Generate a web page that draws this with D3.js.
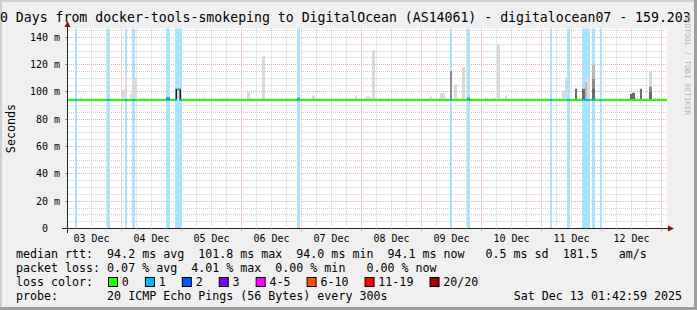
<!DOCTYPE html>
<html><head><meta charset="utf-8">
<script src="https://cdn.jsdelivr.net/npm/d3@7"></script>
<style>
body{margin:0;background:#f0f0f0}
svg{display:block}
text{font-family:"DejaVu Sans Mono",monospace;white-space:pre}
</style>
</head><body>
<svg id="c" width="697" height="310"></svg>
<script>
// ---------------- data ----------------
const title = "10 Days from docker-tools-smokeping to DigitalOcean (AS14061) - digitalocean07 - 159.203";
const yLabel = "Seconds";
const watermark = "RRDTOOL / TOBI OETIKER";
const timeStart = "2025-12-03 02:12";
const timeEnd = "2025-12-13 02:12";
const yMax = 146.5;
const yMajorTicks = [0, 20, 40, 60, 80, 100, 120, 140];
const yTickLabels = ["0  ", "20 m", "40 m", "60 m", "80 m", "100 m", "120 m", "140 m"];
const dayLabels = ["03 Dec", "04 Dec", "05 Dec", "06 Dec", "07 Dec", "08 Dec", "09 Dec", "10 Dec", "11 Dec", "12 Dec"];

// median rtt (ms), step changes
const medianPoints = [
  ["2025-12-03 02:12", 94.2],
  ["2025-12-04 22:12", 101.8],
  ["2025-12-04 23:12", 94.2],
  ["2025-12-13 02:12", 94.2]
];

// packet loss intervals: [start, end, lost pings]
const lossEvents = [
  ["2025-12-03 05:24", "2025-12-03 06:12", 1],
  ["2025-12-03 18:12", "2025-12-03 19:24", 1],
  ["2025-12-04 01:24", "2025-12-04 02:12", 1],
  ["2025-12-04 04:12", "2025-12-04 05:24", 1],
  ["2025-12-04 17:48", "2025-12-04 19:24", 1],
  ["2025-12-04 21:24", "2025-12-05 00:12", 1],
  ["2025-12-06 22:12", "2025-12-06 23:24", 1],
  ["2025-12-09 11:24", "2025-12-09 12:12", 1],
  ["2025-12-09 18:12", "2025-12-09 19:24", 1],
  ["2025-12-11 03:24", "2025-12-11 04:12", 1],
  ["2025-12-11 10:12", "2025-12-11 11:24", 1],
  ["2025-12-11 16:12", "2025-12-11 19:24", 1],
  ["2025-12-11 20:12", "2025-12-11 21:24", 1],
  ["2025-12-11 23:24", "2025-12-12 00:12", 1]
];

// smoke (ping spread above median): [start, end, top ms, density level 0..4]
const smokeSpikes = [
  ["2025-12-03 07:24", "2025-12-03 08:12", 96.3, 0],
  ["2025-12-03 14:12", "2025-12-03 15:24", 95.2, 0],
  ["2025-12-03 23:48", "2025-12-04 01:24", 101.6, 0],
  ["2025-12-04 01:24", "2025-12-04 02:12", 113.3, 0],
  ["2025-12-04 03:24", "2025-12-04 04:12", 98.6, 0],
  ["2025-12-04 04:12", "2025-12-04 06:12", 109.6, 0],
  ["2025-12-04 07:24", "2025-12-04 09:24", 95.7, 0],
  ["2025-12-04 17:48", "2025-12-04 19:24", 96.0, 3],
  ["2025-12-04 21:36", "2025-12-04 22:12", 102.3, 4],
  ["2025-12-04 22:12", "2025-12-04 23:12", 107.2, 0],
  ["2025-12-04 23:12", "2025-12-04 23:48", 102.3, 4],
  ["2025-12-05 07:48", "2025-12-05 09:24", 95.8, 0],
  ["2025-12-05 15:24", "2025-12-05 19:24", 95.5, 0],
  ["2025-12-06 02:12", "2025-12-06 03:24", 99.9, 0],
  ["2025-12-06 08:12", "2025-12-06 09:24", 126.2, 0],
  ["2025-12-06 22:12", "2025-12-06 23:24", 96.0, 2],
  ["2025-12-07 04:12", "2025-12-07 05:24", 97.6, 0],
  ["2025-12-07 21:24", "2025-12-07 22:12", 97.4, 0],
  ["2025-12-08 01:24", "2025-12-08 03:48", 96.7, 0],
  ["2025-12-08 04:12", "2025-12-08 05:24", 130.4, 0],
  ["2025-12-08 10:12", "2025-12-08 11:24", 95.5, 0],
  ["2025-12-09 03:24", "2025-12-09 04:12", 96.7, 0],
  ["2025-12-09 07:24", "2025-12-09 09:24", 99.1, 0],
  ["2025-12-09 11:24", "2025-12-09 12:12", 115.2, 2],
  ["2025-12-09 13:00", "2025-12-09 14:12", 105.5, 0],
  ["2025-12-09 16:12", "2025-12-09 17:24", 118.2, 0],
  ["2025-12-09 18:12", "2025-12-09 19:24", 96.0, 2],
  ["2025-12-09 19:24", "2025-12-09 20:12", 95.5, 0],
  ["2025-12-10 04:12", "2025-12-10 05:24", 95.5, 0],
  ["2025-12-10 06:12", "2025-12-10 07:24", 134.8, 0],
  ["2025-12-10 09:24", "2025-12-10 10:12", 97.4, 0],
  ["2025-12-11 08:12", "2025-12-11 10:12", 101.1, 0],
  ["2025-12-11 09:24", "2025-12-11 10:12", 110.4, 0],
  ["2025-12-11 13:24", "2025-12-11 14:12", 102.3, 3],
  ["2025-12-11 16:12", "2025-12-11 17:24", 102.3, 3],
  ["2025-12-11 17:24", "2025-12-11 19:24", 110.4, 0],
  ["2025-12-11 17:24", "2025-12-11 18:12", 107.2, 1],
  ["2025-12-11 20:12", "2025-12-11 21:24", 119.9, 1],
  ["2025-12-11 20:12", "2025-12-11 21:24", 109.6, 2],
  ["2025-12-11 20:12", "2025-12-11 21:24", 102.3, 3],
  ["2025-12-12 11:24", "2025-12-12 12:36", 98.6, 3],
  ["2025-12-12 12:12", "2025-12-12 13:24", 99.4, 3],
  ["2025-12-12 15:24", "2025-12-12 16:12", 102.3, 3],
  ["2025-12-12 19:00", "2025-12-12 20:12", 115.2, 0],
  ["2025-12-12 19:00", "2025-12-12 20:12", 104.0, 2],
  ["2025-12-12 19:00", "2025-12-12 20:12", 100.0, 3]
];

const lossLabels = ["0", "1", "2", "3", "4-5", "6-10", "11-19", "20/20"];
const lossColors = ["#26ff00", "#00b8ff", "#0059ff", "#7e00ff", "#ff00ff", "#ff5500", "#ff0000", "#a10000"];

const legendRows = [
  "median rtt:  94.2 ms avg  101.8 ms max  94.0 ms min  94.1 ms now   0.5 ms sd  181.5   am/s",
  "packet loss: 0.07 % avg  4.01 % max  0.00 % min   0.00 % now",
  "loss color:",
  "probe:       20 ICMP Echo Pings (56 Bytes) every 300s"
];
const timestamp = "Sat Dec 13 01:42:59 2025";

// ---------------- drawing ----------------
const W = 697, H = 310;
const plot = {left: 67, right: 667, top: 28.5, bottom: 228.5};
const parse = d3.timeParse("%Y-%m-%d %H:%M");
const svg = d3.select("#c");

const x = d3.scaleTime().domain([parse(timeStart), parse(timeEnd)]).range([plot.left, plot.right]);
const y = d3.scaleLinear().domain([0, yMax]).range([plot.bottom, plot.top]);
const px = v => Math.round(v - 0.5) + 0.5;

// background + frame
svg.append("rect").attr("width", W).attr("height", H).attr("fill", "#f0f0f0");
svg.append("rect").attr("x", 0).attr("y", 0).attr("width", W).attr("height", 2).attr("fill", "#cfcfcf");
svg.append("rect").attr("x", 0).attr("y", 0).attr("width", 2).attr("height", H).attr("fill", "#cfcfcf");
svg.append("rect").attr("x", 0).attr("y", H - 3).attr("width", W).attr("height", 3).attr("fill", "#9e9e9e");
svg.append("rect").attr("x", W - 3).attr("y", 0).attr("width", 3).attr("height", H).attr("fill", "#9e9e9e");

// canvas
svg.append("rect").attr("x", plot.left).attr("y", plot.top)
  .attr("width", plot.right - plot.left).attr("height", plot.bottom - plot.top).attr("fill", "#ffffff");

const gGrid = svg.append("g");
const yMinor = d3.range(5, yMax, 5).filter(v => v % 20 !== 0);
gGrid.selectAll(".hm").data(yMinor).join("line")
  .attr("x1", plot.left).attr("x2", plot.right)
  .attr("y1", d => px(y(d))).attr("y2", d => px(y(d)))
  .attr("stroke", "#cfcfcf").attr("stroke-dasharray", "1,1");
const xMinor = d3.timeHour.every(6).range(x.domain()[0], x.domain()[1]).filter(d => d.getHours() !== 0);
gGrid.selectAll(".vm").data(xMinor).join("line")
  .attr("x1", d => px(x(d))).attr("x2", d => px(x(d)))
  .attr("y1", plot.top).attr("y2", plot.bottom)
  .attr("stroke", "#cfcfcf").attr("stroke-dasharray", "1,1");
gGrid.selectAll(".hM").data(yMajorTicks.filter(v => v > 0)).join("line")
  .attr("x1", plot.left).attr("x2", plot.right)
  .attr("y1", d => px(y(d))).attr("y2", d => px(y(d)))
  .attr("stroke", "#f0a8a8").attr("stroke-dasharray", "1,1");
const xMajor = d3.timeDay.range(x.domain()[0], x.domain()[1]);
gGrid.selectAll(".vM").data(xMajor).join("line")
  .attr("x1", d => px(x(d))).attr("x2", d => px(x(d)))
  .attr("y1", plot.top).attr("y2", plot.bottom)
  .attr("stroke", "#f0a8a8").attr("stroke-dasharray", "1,1");

// loss background bars
const lossBg = ["#ffffff", "#a8e4fb", "#a0c0fb", "#c8a8fb", "#fba8fb", "#fbc8a8", "#fba8a8", "#e0a8a8"];
svg.append("g").selectAll("rect").data(lossEvents).join("rect")
  .attr("x", d => x(parse(d[0]))).attr("width", d => x(parse(d[1])) - x(parse(d[0])))
  .attr("y", plot.top).attr("height", plot.bottom - plot.top)
  .attr("fill", d => lossBg[Math.min(d[2], 7)]);

// smoke
const smokeShade = ["#d9d9d9", "#b8b8b8", "#8c8c8c", "#6a6a6a", "#1e1e1e"];
const smokeSorted = smokeSpikes.slice().sort((a, b) => a[3] - b[3]);
svg.append("g").selectAll("rect").data(smokeSorted).join("rect")
  .attr("x", d => x(parse(d[0]))).attr("width", d => x(parse(d[1])) - x(parse(d[0])))
  .attr("y", d => y(d[2])).attr("height", d => y(93.6) - y(d[2]))
  .attr("fill", d => smokeShade[d[3]]);

// median line: horizontal pieces (no vertical joins, like per-sample rendering)
const medPts = medianPoints.map(d => ({t: parse(d[0]), v: d[1]}));
function pieces(t0, t1) {
  const out = [];
  for (let i = 0; i < medPts.length - 1; i++) {
    const a = medPts[i].t > t0 ? medPts[i].t : t0;
    const b = medPts[i + 1].t < t1 ? medPts[i + 1].t : t1;
    if (b > a) out.push([{t: a, v: medPts[i].v}, {t: b, v: medPts[i].v}]);
  }
  return out;
}
const line = d3.line().x(d => x(d.t)).y(d => y(d.v));
const gMed = svg.append("g").attr("fill", "none").attr("stroke-width", 2);
pieces(x.domain()[0], x.domain()[1]).forEach(p =>
  gMed.append("path").attr("d", line(p)).attr("stroke", lossColors[0]));
lossEvents.forEach(ev => {
  pieces(parse(ev[0]), parse(ev[1])).forEach(p =>
    gMed.append("path").attr("d", line(p)).attr("stroke", lossColors[Math.min(ev[2], 7)]));
});

// axes
const axisCol = "#222";
const gAx = svg.append("g");
gAx.append("line").attr("x1", 62).attr("x2", 669).attr("y1", plot.bottom).attr("y2", plot.bottom).attr("stroke", axisCol);
gAx.append("line").attr("x1", plot.left + 0.5).attr("x2", plot.left + 0.5).attr("y1", 233).attr("y2", 26).attr("stroke", axisCol);
gAx.selectAll(".ty").data(yMajorTicks.filter(v => v > 0)).join("line")
  .attr("x1", plot.left - 2).attr("x2", plot.left).attr("y1", d => px(y(d))).attr("y2", d => px(y(d)))
  .attr("stroke", "#999");
gAx.selectAll(".tx").data(xMajor).join("line")
  .attr("x1", d => px(x(d))).attr("x2", d => px(x(d))).attr("y1", plot.bottom).attr("y2", plot.bottom + 3)
  .attr("stroke", "#f0a8a8");
gAx.selectAll(".txm").data(xMinor).join("line")
  .attr("x1", d => px(x(d))).attr("x2", d => px(x(d))).attr("y1", plot.bottom).attr("y2", plot.bottom + 2)
  .attr("stroke", "#cfcfcf");
const arrowCol = "#8b1010";
gAx.append("path").attr("d", `M${plot.left + 0.5},21 L${plot.left - 2.5},27 L${plot.left + 3.5},27 Z`).attr("fill", arrowCol);
gAx.append("path").attr("d", `M674,${plot.bottom} L668,${plot.bottom - 3} L668,${plot.bottom + 3} Z`).attr("fill", arrowCol);

// y tick labels
svg.append("g").selectAll("text").data(yMajorTicks).join("text")
  .attr("x", 60).attr("y", d => px(y(d)) + 3.6)
  .attr("text-anchor", "end").attr("font-size", "10px").attr("fill", "#000")
  .attr("xml:space", "preserve")
  .text((d, i) => yTickLabels[i]);

// x labels at noon
const labelFmtParse = d3.timeParse("%d %b %Y %H:%M");
svg.append("g").selectAll("text").data(dayLabels).join("text")
  .attr("x", d => x(labelFmtParse(d + " 2025 12:00")))
  .attr("y", 241.5).attr("text-anchor", "middle").attr("font-size", "10px").attr("fill", "#000")
  .text(d => d);

// title (clipped at the image edges as in the original)
svg.append("text").attr("x", -8).attr("y", 21.5).attr("font-size", "13.2px").attr("fill", "#000")
  .attr("xml:space", "preserve").text(title);

// y label
svg.append("text").attr("transform", "translate(14.5,128.5) rotate(-90)")
  .attr("text-anchor", "middle").attr("font-size", "11.7px").attr("fill", "#000").text(yLabel);

// watermark
svg.append("text").attr("transform", "translate(685,14.5) rotate(90)")
  .attr("font-size", "7.6px").attr("fill", "#b4b4b4").text(watermark);

// legend
const legFont = 11.65, charW = legFont * 0.6021;
const rowY = [257.5, 271.5, 285.5, 299.5];
legendRows.forEach((r, i) => {
  svg.append("text").attr("x", 16).attr("y", rowY[i]).attr("font-size", legFont + "px")
    .attr("fill", "#000").attr("xml:space", "preserve").text(r);
});
svg.append("text").attr("x", 682).attr("y", rowY[3]).attr("text-anchor", "end")
  .attr("font-size", legFont + "px").attr("fill", "#000").text(timestamp);
let cursor = 108;
lossLabels.forEach((lab, i) => {
  svg.append("rect").attr("x", cursor + 0.5).attr("y", 277.5).attr("width", 9).attr("height", 9)
    .attr("fill", lossColors[i]).attr("stroke", "#000");
  const lx = cursor + 13.8;
  svg.append("text").attr("x", lx).attr("y", rowY[2]).attr("font-size", legFont + "px")
    .attr("fill", "#000").text(lab);
  cursor = lx + lab.length * charW + 16.1;
});
</script>
</body></html>
